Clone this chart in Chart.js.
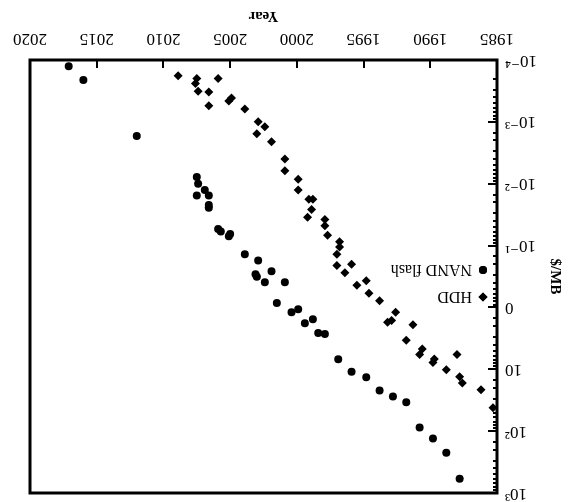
<!DOCTYPE html>
<html>
<head>
<meta charset="utf-8">
<script src="https://cdn.jsdelivr.net/npm/chart.js@4.4.0/dist/chart.umd.min.js"></script>
<style>
    html, body { margin: 0; padding: 0; background: #fff; overflow: hidden; }
    /* the scanned figure is printed upside down, so the whole chart is turned 180 degrees */
    #wrap { width: 576px; height: 502px; transform: rotate(180deg); }
</style>
</head>
<body>
<div id="wrap"><canvas id="priceChart" width="576" height="502"></canvas></div>
<script>
// HDD price per megabyte
const hddYears = [2008.9, 2007.5, 2007.6, 2007.4, 2006.6, 2005.9, 2006.6, 2004.9, 2005.1, 2003.9,
    2002.9, 2002.4, 2003.0, 2001.9, 2000.9, 2000.9, 1999.9, 1999.9, 1999.1, 1998.8,
    1998.9, 1999.2, 1997.9, 1997.9, 1997.7, 1996.8, 1996.8, 1997.0, 1997.0, 1995.9,
    1996.4, 1994.8, 1995.5, 1994.6, 1993.8, 1992.6, 1993.2, 1992.9, 1991.3, 1991.8,
    1990.6, 1990.8, 1989.7, 1989.8, 1988.0, 1988.8, 1987.8, 1987.6, 1986.2, 1985.3];
const hddPrices = [0.00018, 0.0002, 0.00024, 0.00032, 0.00033, 0.0002, 0.00055, 0.00041, 0.00046, 0.00062,
    0.001, 0.0012, 0.00155, 0.0021, 0.004, 0.0062, 0.0085, 0.0126, 0.0178, 0.0178,
    0.026, 0.035, 0.038, 0.048, 0.068, 0.087, 0.105, 0.138, 0.21, 0.2,
    0.275, 0.37, 0.44, 0.59, 0.78, 1.2, 1.74, 1.62, 1.9, 3.4,
    4.7, 5.75, 6.8, 7.8, 5.75, 10.2, 13.2, 16.6, 21.4, 41.7];

// NAND flash price per megabyte
const nandYears = [2017.1, 2016.0, 2012.0, 2007.5, 2007.4, 2007.5, 2006.9, 2006.6, 2006.6, 2006.6,
    2005.9, 2005.7, 2005.0, 2005.1, 2003.9, 2002.9, 2003.1, 2003.0, 2002.4, 2001.9,
    2000.9, 2001.5, 2000.4, 1999.9, 1999.4, 1998.8, 1998.4, 1997.9, 1996.9, 1995.9,
    1994.8, 1993.8, 1992.8, 1991.8, 1990.8, 1989.8, 1988.8, 1987.8];
const nandPrices = [0.000126, 0.00021, 0.0017, 0.0078, 0.01, 0.0155, 0.0126, 0.0155, 0.022, 0.0245,
    0.054, 0.059, 0.065, 0.071, 0.138, 0.174, 0.29, 0.32, 0.39, 0.26,
    0.39, 0.85, 1.2, 1.07, 1.8, 1.55, 2.6, 2.7, 6.9, 11,
    13.5, 22, 27.5, 34, 87, 132, 224, 590];

const yearTicks = [1985, 1990, 1995, 2000, 2005, 2010, 2015, 2020];
const priceTickLabels = ['10⁻⁴', '10⁻³', '10⁻²', '10⁻¹', '0', '10', '10²', '10³'];

const serif = '"Liberation Serif", "DejaVu Serif", serif';

// pair up the year and price arrays into scatter points
function toPoints(xs, ys) {
    return xs.map((x, i) => ({ x: x, y: ys[i] }));
}

// frame, inward tick marks and the legend are drawn on top of the chart area
const framePlugin = {
    id: 'frame',
    afterDraw(chart) {
        const ctx = chart.ctx;
        const area = chart.chartArea;
        const xs = chart.scales.x;
        const ys = chart.scales.y;
        ctx.save();
        ctx.strokeStyle = '#000';
        ctx.lineWidth = 2;
        ctx.beginPath();
        yearTicks.forEach(yr => {
            const px = Math.round(xs.getPixelForValue(yr));
            ctx.moveTo(px, area.bottom);
            ctx.lineTo(px, area.bottom - 8);
        });
        ys.ticks.forEach(t => {
            const lg = Math.log10(t.value);
            const major = Math.abs(lg - Math.round(lg)) < 1e-6;
            const py = Math.round(ys.getPixelForValue(t.value));
            ctx.moveTo(area.left, py);
            ctx.lineTo(area.left + (major ? 9 : 4), py);
        });
        ctx.stroke();
        ctx.lineWidth = 3;
        ctx.strokeRect(area.left, area.top, area.right - area.left, area.bottom - area.top);

        // legend
        ctx.font = '16px ' + serif;
        ctx.textBaseline = 'middle';
        ctx.fillStyle = '#000';
        chart.data.datasets.forEach((ds, i) => {
            const ly = 205 + i * 27;
            Chart.helpers.drawPoint(ctx, { pointStyle: ds.pointStyle, radius: ds.pointRadius, rotation: 0, borderWidth: 0 }, 93, ly);
            ctx.fill();
            ctx.fillText(ds.label, 104, ly + 1);
        });
        ctx.restore();
    }
};

const ctx = document.getElementById('priceChart').getContext('2d');
const chart = new Chart(ctx, {
    type: 'scatter',
    data: {
        datasets: [{
            label: 'HDD',
            data: toPoints(hddYears, hddPrices),
            pointStyle: 'rectRot',
            pointRadius: 4.5,
            backgroundColor: '#000',
            borderColor: '#000',
            borderWidth: 0
        }, {
            label: 'NAND flash',
            data: toPoints(nandYears, nandPrices),
            pointStyle: 'circle',
            pointRadius: 4,
            backgroundColor: '#000',
            borderColor: '#000',
            borderWidth: 0
        }]
    },
    options: {
        responsive: false,
        animation: false,
        layout: { padding: { left: 0, right: 30, top: 0, bottom: 0 } },
        plugins: {
            legend: { display: false },
            tooltip: { enabled: false }
        },
        scales: {
            x: {
                type: 'linear',
                min: 1985,
                max: 2020,
                grid: { display: false, drawTicks: false },
                border: { display: false },
                afterBuildTicks: scale => { scale.ticks = yearTicks.map(v => ({ value: v })); },
                afterFit: scale => { scale.height = 60; },
                ticks: {
                    color: '#000',
                    padding: 11,
                    font: { family: serif, size: 17 },
                    callback: value => String(value)
                },
                title: {
                    display: true,
                    text: 'Year',
                    color: '#000',
                    font: { family: serif, size: 15, weight: 'bold' },
                    padding: { top: 0, bottom: 7 }
                }
            },
            y: {
                type: 'logarithmic',
                min: 1e-4,
                max: 1e3,
                grid: { display: false, drawTicks: false },
                border: { display: false },
                afterFit: scale => {
                    scale.width = 79;
                    scale.paddingTop = 9;  // keep the plot top close to the canvas edge
                },
                ticks: {
                    color: '#000',
                    padding: 8,
                    autoSkip: false,
                    font: { family: serif, size: 17 },
                    callback: function (value) {
                        const lg = Math.log10(value);
                        const e = Math.round(lg);
                        if (Math.abs(lg - e) > 1e-6) return '';
                        return priceTickLabels[e + 4];
                    }
                },
                title: {
                    display: true,
                    text: '$/MB',
                    color: '#000',
                    font: { family: serif, size: 15, weight: 'bold' },
                    padding: { top: 12, bottom: 0 }
                }
            }
        }
    },
    plugins: [framePlugin]
});
</script>
</body>
</html>
